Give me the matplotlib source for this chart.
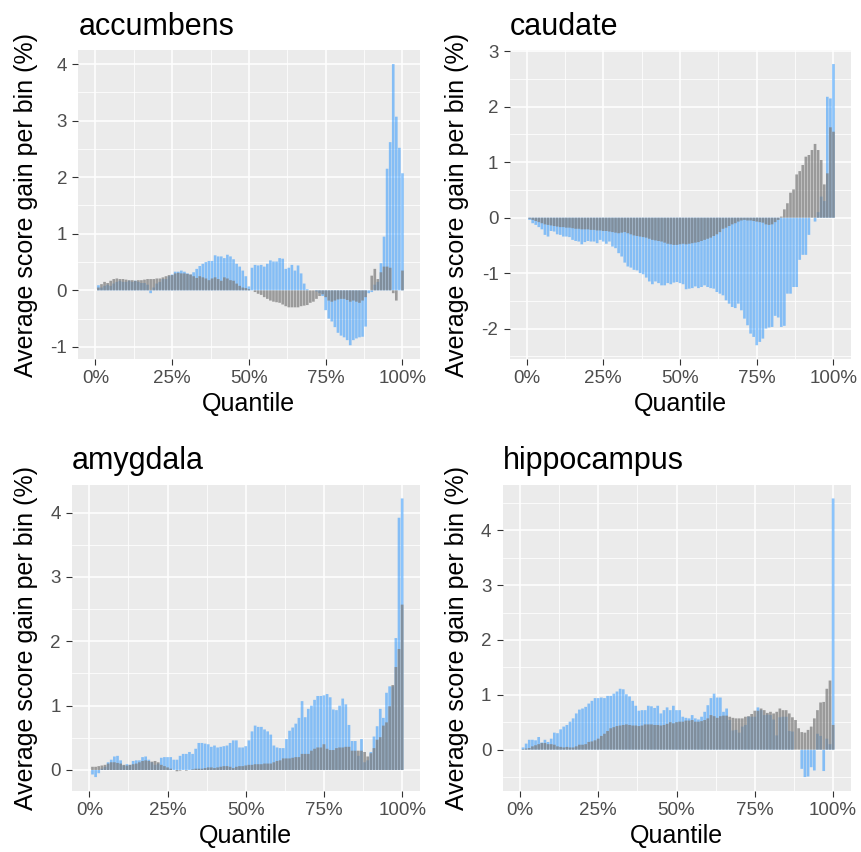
import matplotlib
matplotlib.use("Agg")
import matplotlib.pyplot as plt
from matplotlib.ticker import MultipleLocator, FixedLocator, FixedFormatter

plt.rcParams['font.family'] = ['Liberation Sans', 'DejaVu Sans']
plt.rcParams['axes.unicode_minus'] = False

# ---------------- data ----------------
quantile = list(range(0, 101))
xtick_vals = [0, 25, 50, 75, 100]
xtick_labels = ['0%', '25%', '50%', '75%', '100%']
regions = ['accumbens', 'caudate', 'amygdala', 'hippocampus']

accumbens_model = [
    0, 0.09, 0.05, 0.08, 0.1, 0.08, 0.12, 0.15, 0.17, 0.15,
    0.15, 0.17, 0.15, 0.17, 0.15, 0.13, 0.13, 0.1, -0.05, 0.05,
    0.12, 0.15, 0.2, 0.2, 0.25, 0.28, 0.33, 0.33, 0.35, 0.33,
    0.3, 0.28, 0.32, 0.38, 0.43, 0.47, 0.5, 0.52, 0.52, 0.62,
    0.6, 0.6, 0.57, 0.63, 0.6, 0.55, 0.47, 0.42, 0.35, 0.25,
    0.07, 0.4, 0.45, 0.44, 0.45, 0.42, 0.47, 0.53, 0.51, 0.51,
    0.57, 0.56, 0.38, 0.4, 0.45, 0.35, 0.44, 0.3, 0.12, 0.02,
    0.0, 0.0, -0.02, -0.05, -0.1, -0.35, -0.5, -0.55, -0.65, -0.75,
    -0.8, -0.83, -0.88, -0.97, -0.88, -0.85, -0.83, -0.82, -0.64, -0.05,
    -0.03, 0.1, 0.15, 0.48, 0.95, 2.15, 2.62, 4.0, 3.07, 2.52,
    2.07]
accumbens_base = [
    0, 0.05, 0.11, 0.15, 0.13, 0.17, 0.2, 0.21, 0.2, 0.2,
    0.19, 0.18, 0.18, 0.17, 0.18, 0.18, 0.19, 0.2, 0.2, 0.2,
    0.21, 0.21, 0.23, 0.25, 0.27, 0.27, 0.3, 0.31, 0.3, 0.3,
    0.29, 0.28, 0.25, 0.22, 0.25, 0.23, 0.21, 0.18, 0.21, 0.23,
    0.2, 0.17, 0.23, 0.21, 0.18, 0.17, 0.12, 0.08, 0.05, 0.04,
    0.02, 0.0, -0.03, -0.06, -0.08, -0.12, -0.15, -0.18, -0.2, -0.21,
    -0.22, -0.25, -0.28, -0.3, -0.3, -0.3, -0.3, -0.28, -0.27, -0.26,
    -0.22, -0.2, -0.15, -0.1, -0.07, -0.12, -0.18, -0.2, -0.18, -0.16,
    -0.15, -0.15, -0.17, -0.2, -0.18, -0.2, -0.22, -0.18, -0.12, 0.0,
    0.26, 0.38, 0.2, 0.32, 0.42, 0.42, 0.4, -0.05, -0.18, 0.0,
    0.35]

caudate_model = [
    0, -0.04, -0.1, -0.13, -0.17, -0.21, -0.31, -0.34, -0.24, -0.25,
    -0.3, -0.31, -0.34, -0.34, -0.35, -0.4, -0.42, -0.43, -0.48, -0.44,
    -0.42, -0.43, -0.43, -0.46, -0.4, -0.43, -0.47, -0.43, -0.52, -0.55,
    -0.64, -0.7, -0.81, -0.88, -0.9, -0.94, -0.95, -1.0, -1.02, -1.08,
    -1.15, -1.2, -1.15, -1.18, -1.22, -1.22, -1.18, -1.2, -1.17, -1.16,
    -1.18, -1.2, -1.29, -1.28, -1.27, -1.24, -1.27, -1.25, -1.22, -1.25,
    -1.27, -1.28, -1.34, -1.37, -1.4, -1.49, -1.55, -1.61, -1.63, -1.55,
    -1.67, -1.82, -1.94, -2.09, -2.15, -2.3, -2.24, -2.18, -2.0, -1.98,
    -1.97, -1.77, -1.8, -1.97, -1.95, -1.37, -1.37, -1.25, -1.25, -0.76,
    -0.67, -0.67, -0.31, 0.0, -0.07, 0.1, 0.38, 0.3, 2.18, 2.15,
    2.77]
caudate_base = [
    0, -0.02, -0.04, -0.06, -0.08, -0.1, -0.12, -0.13, -0.14, -0.15,
    -0.16, -0.17, -0.17, -0.18, -0.18, -0.19, -0.2, -0.2, -0.21, -0.21,
    -0.21, -0.22, -0.22, -0.23, -0.23, -0.24, -0.24, -0.25, -0.26, -0.27,
    -0.28, -0.27, -0.26, -0.28, -0.3, -0.32, -0.33, -0.34, -0.35, -0.36,
    -0.38, -0.4, -0.41, -0.42, -0.43, -0.45, -0.47, -0.48, -0.49, -0.49,
    -0.48, -0.47, -0.48, -0.47, -0.46, -0.45, -0.44, -0.42, -0.4, -0.38,
    -0.36, -0.33, -0.3, -0.26, -0.2, -0.18, -0.15, -0.12, -0.1, -0.07,
    -0.05, -0.04, -0.05, -0.05, -0.06, -0.07, -0.08, -0.09, -0.12, -0.13,
    -0.12, -0.08, -0.04, 0.02, 0.15, 0.26, 0.45, 0.51, 0.78, 0.84,
    0.95, 1.1, 1.13, 1.22, 1.33, 1.22, 1.04, 0.6, 0.8, 1.63,
    1.55]

amygdala_model = [
    0, -0.07, -0.11, -0.05, 0.02, 0.05, 0.12, 0.16, 0.21, 0.22,
    0.15, 0.07, 0.09, 0.08, 0.14, 0.15, 0.15, 0.2, 0.21, 0.16,
    0.12, 0.08, 0.1, 0.19, 0.2, 0.2, 0.2, 0.16, 0.16, 0.22,
    0.25, 0.25, 0.28, 0.25, 0.33, 0.42, 0.42, 0.41, 0.4, 0.36,
    0.38, 0.35, 0.36, 0.37, 0.38, 0.42, 0.46, 0.46, 0.35, 0.35,
    0.37, 0.46, 0.6, 0.69, 0.67, 0.67, 0.63, 0.6, 0.55, 0.38,
    0.35, 0.34, 0.34, 0.48, 0.61, 0.66, 0.72, 0.81, 1.07, 0.82,
    0.95, 1.0, 1.09, 1.15, 1.15, 1.16, 1.18, 1.13, 0.94, 0.93,
    1.0, 1.11, 1.02, 0.7, 0.45, 0.45, 0.22, 0.48, 0.12, 0.15,
    0.28, 0.52, 0.68, 0.95, 0.81, 1.2, 1.3, 1.3, 2.05, 3.92,
    4.22]
amygdala_base = [
    0, 0.05, 0.05, 0.06, 0.07, 0.08, 0.1, 0.12, 0.12, 0.11,
    0.1, 0.08, 0.07, 0.08, 0.09, 0.1, 0.12, 0.14, 0.15, 0.14,
    0.13, 0.14, 0.12, 0.08, 0.06, 0.04, 0.02, 0.0, -0.02, -0.01,
    0.0, -0.01, 0.0, 0.01, 0.02, 0.02, 0.02, 0.03, 0.04, 0.04,
    0.03, 0.04, 0.05, 0.06, 0.06, 0.05, 0.03, 0.05, 0.06, 0.06,
    0.07, 0.08, 0.08, 0.09, 0.09, 0.09, 0.1, 0.1, 0.1, 0.12,
    0.14, 0.15, 0.18, 0.18, 0.18, 0.19, 0.2, 0.2, 0.25, 0.25,
    0.25, 0.3, 0.33, 0.35, 0.35, 0.4, 0.33, 0.31, 0.31, 0.34,
    0.35, 0.35, 0.36, 0.36, 0.3, 0.3, 0.3, 0.3, 0.28, 0.21,
    0.26, 0.34, 0.47, 0.51, 0.69, 0.74, 0.99, 1.32, 1.6, 1.88,
    2.57]

hippocampus_model = [
    0, 0.04, 0.11, 0.18, 0.18, 0.17, 0.23, 0.13, 0.18, 0.14,
    0.2, 0.31, 0.3, 0.37, 0.42, 0.45, 0.51, 0.57, 0.66, 0.73,
    0.75, 0.78, 0.84, 0.89, 0.94, 0.94, 0.95, 0.94, 0.98, 0.98,
    1.02, 1.06, 1.11, 1.1, 1.01, 0.97, 0.89, 0.8, 0.71, 0.72,
    0.72, 0.8, 0.79, 0.76, 0.8, 0.66, 0.72, 0.77, 0.72, 0.8,
    0.72, 0.72, 0.6, 0.58, 0.57, 0.63, 0.57, 0.55, 0.6, 0.69,
    0.81, 0.94, 1.02, 0.95, 0.95, 0.69, 0.75, 0.54, 0.35, 0.36,
    0.31, 0.42, 0.45, 0.6, 0.6, 0.6, 0.77, 0.72, 0.63, 0.64,
    0.63, 0.55, 0.26, 0.59, 0.6, 0.6, 0.34, 0.33, 0.0, 0.0,
    -0.35, -0.5, -0.49, -0.32, -0.38, 0.29, 0.25, -0.39, 0.2, 0.1,
    4.58]
hippocampus_base = [
    0, 0.01, 0.02, 0.03, 0.06, 0.08, 0.1, 0.12, 0.12, 0.1,
    0.1, 0.09, 0.06, 0.05, 0.04, 0.05, 0.04, 0.04, 0.06, 0.09,
    0.09, 0.1, 0.14, 0.15, 0.17, 0.2, 0.25, 0.29, 0.34, 0.39,
    0.41, 0.43, 0.44, 0.45, 0.46, 0.45, 0.44, 0.44, 0.43, 0.44,
    0.46, 0.46, 0.46, 0.45, 0.45, 0.44, 0.45, 0.47, 0.5, 0.48,
    0.5, 0.51, 0.51, 0.53, 0.53, 0.54, 0.51, 0.51, 0.52, 0.54,
    0.57, 0.63, 0.61, 0.58, 0.61, 0.62, 0.62, 0.6, 0.58, 0.57,
    0.57, 0.57, 0.6, 0.61, 0.65, 0.71, 0.71, 0.75, 0.72, 0.67,
    0.69, 0.66, 0.69, 0.75, 0.72, 0.72, 0.66, 0.59, 0.54, 0.39,
    0.32, 0.31, 0.36, 0.42, 0.57, 0.72, 0.86, 0.87, 1.11, 1.26,
    0.45]

series = {
    'accumbens': (accumbens_model, accumbens_base),
    'caudate': (caudate_model, caudate_base),
    'amygdala': (amygdala_model, amygdala_base),
    'hippocampus': (hippocampus_model, hippocampus_base),
}

# ---------------- layout (pixels: left, right, top, bottom) ----------------
W, H = 861, 852
panel_px = {
    'accumbens':   (78.3, 419.5, 50.0, 359.3),
    'caudate':     (509.5, 850.5, 50.0, 359.3),
    'amygdala':    (72.0, 419.5, 484.5, 791.0),
    'hippocampus': (502.5, 850.5, 484.5, 791.0),
}
ylabel_x_px = {'accumbens': 38.5, 'amygdala': 38.5,
               'caudate': 469.0, 'hippocampus': 469.0}

BG = '#EBEBEB'
BLUE = '#1E90FF'
GRAY = '#7F7F7F'

fig = plt.figure(figsize=(W / 100, H / 100), dpi=100)
fig.patch.set_facecolor('white')

for name in regions:
    model, base = series[name]
    l, r, t, b = panel_px[name]
    ax = fig.add_axes([l / W, 1 - b / H, (r - l) / W, (b - t) / H])
    ax.set_facecolor(BG)

    bars_m = ax.bar(quantile, model, width=0.86, color=BLUE, alpha=0.5,
                    linewidth=0, zorder=2)
    bars_b = ax.bar(quantile, base, width=0.86, color=GRAY, alpha=0.75,
                    linewidth=0, zorder=3)
    for p in list(bars_m) + list(bars_b):
        p.set_snap(False)

    n = len(quantile)
    ax.set_xlim(-0.5 - 0.05 * n, 100.5 + 0.05 * n)
    lo = min(min(model), min(base), 0)
    hi = max(max(model), max(base), 0)
    pad = 0.05 * (hi - lo)
    ax.set_ylim(lo - pad, hi + pad)

    ax.xaxis.set_major_locator(FixedLocator(xtick_vals))
    ax.xaxis.set_major_formatter(FixedFormatter(xtick_labels))
    ax.xaxis.set_minor_locator(MultipleLocator(12.5))
    ax.yaxis.set_major_locator(MultipleLocator(1))
    ax.yaxis.set_minor_locator(MultipleLocator(0.5))

    ax.grid(which='major', color='white', linewidth=1.1, zorder=1)
    ax.grid(which='minor', color='white', linewidth=0.55, zorder=1)
    ax.set_axisbelow(True)
    for s in ax.spines.values():
        s.set_visible(False)

    ax.tick_params(which='major', length=4, width=0.8, color='#333333',
                   labelcolor='#4D4D4D', labelsize=13.5, pad=4)
    ax.tick_params(which='minor', length=0)

    ax.set_title(name, loc='left', fontsize=22, pad=10.8, color='black')
    ax.set_xlabel('Quantile', fontsize=18, labelpad=3.5, color='black')
    ax.set_ylabel('Average score gain per bin (%)', fontsize=18, color='black')
    ax.yaxis.set_label_coords(ylabel_x_px[name] / W,
                              1 - ((t + b) / 2) / H,
                              transform=fig.transFigure)

fig.savefig('out.png', dpi=100, facecolor='white')
